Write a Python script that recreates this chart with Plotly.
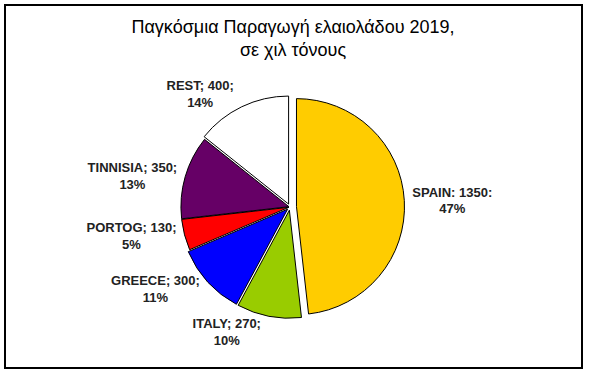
import plotly.graph_objects as go

countries = ["SPAIN", "ITALY", "GREECE", "PORTOG", "TINNISIA", "REST"]
production = [1350, 270, 300, 130, 350, 400]
pct_labels = ["47%", "10%", "11%", "5%", "13%", "14%"]
separators = [":", ";", ";", ";", ";", ";"]
colors = ["#FFCC00", "#99CC00", "#0000FF", "#FF0000", "#660066", "#FFFFFF"]
pulls = [0.06, 0.03, 0.03, 0.01, 0.01, 0.03]

texts = [f"{c}{s} {v}{s}<br>{p}" for c, s, v, p in zip(countries, separators, production, pct_labels)]

W, H = 589, 377
cx, cy = 290, 207
D = 229

fig = go.Figure(go.Pie(
    labels=countries,
    values=production,
    text=texts,
    textinfo="text",
    textposition="outside",
    sort=False,
    direction="clockwise",
    rotation=0,
    pull=pulls,
    marker=dict(colors=colors, line=dict(color="#000000", width=1)),
    outsidetextfont=dict(family="Arial, Liberation Sans", size=13, color="#222222", weight="bold"),
    domain=dict(x=[(cx - D / 2) / W, (cx + D / 2) / W],
                y=[(H - cy - D / 2) / H, (H - cy + D / 2) / H]),
    showlegend=False,
    hoverinfo="label+value+percent",
))

fig.update_layout(
    width=W, height=H,
    margin=dict(l=0, r=0, t=0, b=0),
    paper_bgcolor="white",
    plot_bgcolor="white",
    title=dict(text="Παγκόσμια Παραγωγή ελαιολάδου 2019,<br>σε χιλ τόνους",
               x=293 / W, xanchor="center", y=1 - 33 / H, yanchor="middle",
               font=dict(family="Arial, Liberation Sans", size=18, color="#000000")),
    shapes=[dict(type="rect", xref="paper", yref="paper",
                 x0=5 / W, x1=582 / W, y0=1 - 368 / H, y1=1 - 5 / H,
                 line=dict(color="#000000", width=2), fillcolor="rgba(0,0,0,0)")],
)

fig.write_html("out.html", config={"displayModeBar": False},
               post_script="document.body.style.margin='0';document.body.style.overflow='hidden';")
